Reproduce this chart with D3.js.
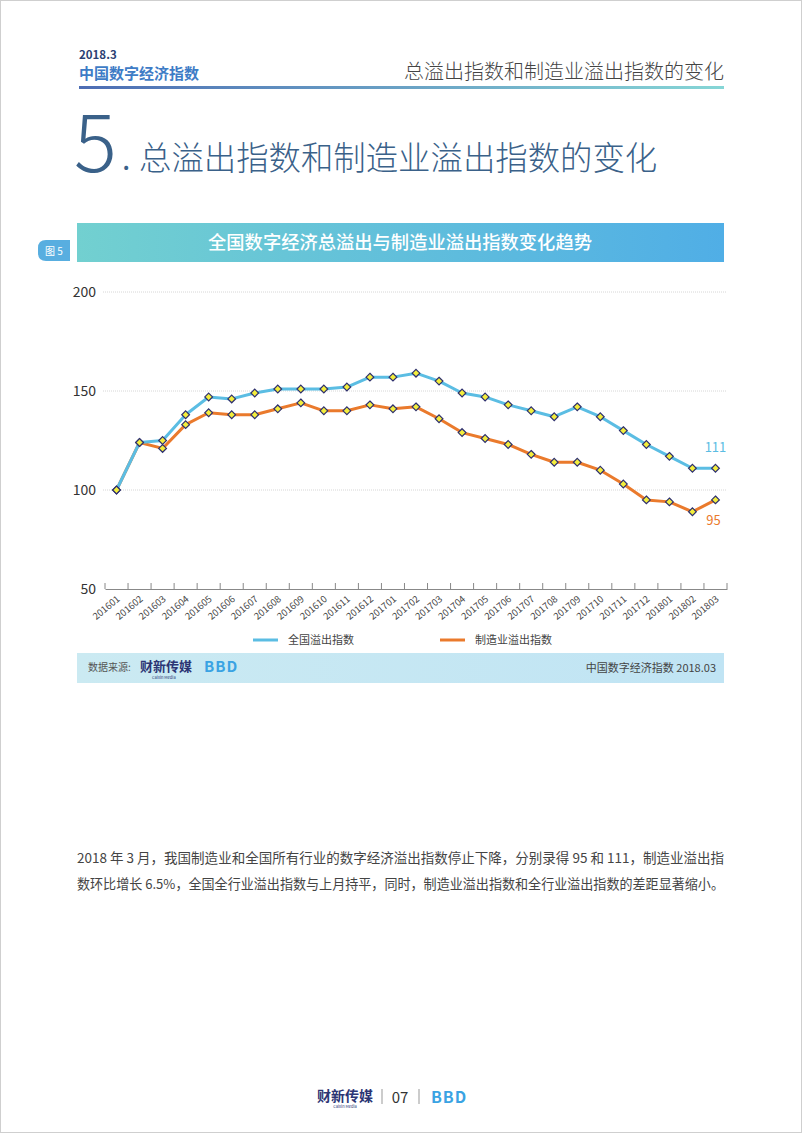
<!DOCTYPE html>
<html>
<head>
<meta charset="utf-8">
<script src="https://cdn.jsdelivr.net/npm/d3@7"></script>
<style>
  html, body { margin: 0; padding: 0; background: #fff; }
  svg { display: block; }
  text { font-family: "Noto Sans CJK SC", "Noto Sans", sans-serif; }
</style>
</head>
<body>
<div id="page"></div>
<script>
"use strict";

// chart data
var months = ["201601","201602","201603","201604","201605","201606","201607","201608","201609",
              "201610","201611","201612","201701","201702","201703","201704","201705","201706",
              "201707","201708","201709","201710","201711","201712","201801","201802","201803"];
var totalIndex = [100,124,125,138,147,146,149,151,151,151,152,157,157,159,155,149,147,143,140,137,142,137,130,123,117,111,111];
var mfgIndex   = [100,124,121,133,139,138,138,141,144,140,140,143,141,142,136,129,126,123,118,114,114,110,103,95,94,89,95];
var yTicks = [50, 100, 150, 200];
var seriesNames = ["全国溢出指数", "制造业溢出指数"];
var seriesColors = ["#5bbde3", "#ea7a2c"];

var W = 802, H = 1133;
var svg = d3.select("#page").append("svg")
    .attr("width", W)
    .attr("height", H);

var defs = svg.append("defs");

// page border
svg.append("rect")
    .attr("x", 0.5).attr("y", 0.5)
    .attr("width", W - 1).attr("height", H - 1)
    .attr("fill", "none")
    .attr("stroke", "#cfcfcf");

// ---- header
svg.append("text")
    .attr("x", 79).attr("y", 59)
    .attr("font-family", "DejaVu Sans Condensed")
    .attr("font-weight", "bold")
    .attr("font-size", 11.5)
    .attr("fill", "#2b3f73")
    .text("2018.3");

svg.append("text")
    .attr("x", 79).attr("y", 79)
    .attr("font-weight", "bold")
    .attr("font-size", 15)
    .attr("fill", "#3e7cc6")
    .text("中国数字经济指数");

svg.append("text")
    .attr("x", 724).attr("y", 79)
    .attr("text-anchor", "end")
    .attr("font-weight", 300)
    .attr("font-size", 20)
    .attr("fill", "#444")
    .text("总溢出指数和制造业溢出指数的变化");

var lineGrad = defs.append("linearGradient").attr("id", "hdrLine");
lineGrad.append("stop").attr("offset", "0%").attr("stop-color", "#4d6db4");
lineGrad.append("stop").attr("offset", "100%").attr("stop-color", "#86d6d6");
svg.append("rect")
    .attr("x", 79).attr("y", 86)
    .attr("width", 645).attr("height", 3)
    .attr("fill", "url(#hdrLine)");

// ---- section title
var titleColor = "#3a6189";
svg.append("text")
    .attr("x", 74).attr("y", 172)
    .attr("font-family", "Noto Sans")
    .attr("font-weight", 300)
    .attr("font-size", 80)
    .attr("fill", titleColor)
    .text("5");
svg.append("text")
    .attr("x", 122).attr("y", 170)
    .attr("font-family", "Noto Sans")
    .attr("font-size", 30)
    .attr("fill", titleColor)
    .text(".");
svg.append("text")
    .attr("x", 139).attr("y", 170)
    .attr("font-weight", 300)
    .attr("font-size", 32.4)
    .attr("fill", titleColor)
    .text("总溢出指数和制造业溢出指数的变化");

// ---- banner
var banGrad = defs.append("linearGradient").attr("id", "banner");
banGrad.append("stop").attr("offset", "0%").attr("stop-color", "#72d0d0");
banGrad.append("stop").attr("offset", "100%").attr("stop-color", "#50aee6");
svg.append("rect")
    .attr("x", 77).attr("y", 223)
    .attr("width", 647).attr("height", 39)
    .attr("fill", "url(#banner)");
svg.append("text")
    .attr("x", 400).attr("y", 249)
    .attr("text-anchor", "middle")
    .attr("font-weight", 500)
    .attr("font-size", 18.3)
    .attr("fill", "#fff")
    .text("全国数字经济总溢出与制造业溢出指数变化趋势");

svg.append("path")
    .attr("d", "M70,240 H46 Q38,240 38,248 V253 Q38,261 46,261 H70 Z")
    .attr("fill", "#58aee0");
svg.append("text")
    .attr("x", 54).attr("y", 255)
    .attr("text-anchor", "middle")
    .attr("font-size", 10)
    .attr("fill", "#fff")
    .text("图 5");

// ---- chart
var x = d3.scaleBand().domain(months).range([105, 727]);
var y = d3.scaleLinear().domain([50, 200]).range([589, 292]);
var cx = function(d, i){ return x(months[i]) + x.bandwidth() / 2; };

var chart = svg.append("g").attr("class", "chart");

// gridlines
chart.selectAll(".grid")
    .data(yTicks.filter(function(t){ return t > 50; }))
    .enter()
    .append("line")
    .attr("x1", 103).attr("x2", 727)
    .attr("y1", function(d){ return y(d); })
    .attr("y2", function(d){ return y(d); })
    .attr("stroke", "#d6d6d6")
    .attr("stroke-width", 1)
    .attr("stroke-dasharray", "1,1");

// y axis labels
var yAxis = d3.axisLeft(y).tickValues(yTicks).tickSize(0).tickPadding(0);
chart.append("g")
    .attr("transform", "translate(96,0)")
    .call(yAxis)
    .call(function(g){ g.select(".domain").remove(); })
    .selectAll("text")
    .attr("font-family", "Open Sans")
    .attr("font-size", 14)
    .attr("fill", "#333");

// x axis
var xAxis = d3.axisBottom(x).tickSize(0).tickPadding(0);
var gx = chart.append("g")
    .attr("transform", "translate(0," + y(50) + ")")
    .call(xAxis);
gx.select(".domain").attr("stroke", "#888");
gx.selectAll("text")
    .attr("font-family", "Noto Sans")
    .attr("font-size", 9.5)
    .attr("fill", "#444")
    .attr("text-anchor", "end")
    .attr("dy", 0)
    .attr("transform", "translate(4,11) rotate(-40)");

// boundary ticks
var bounds = months.map(function(m){ return x(m); }).concat([x(months[months.length - 1]) + x.bandwidth()]);
gx.selectAll(".btick")
    .data(bounds)
    .enter()
    .append("line")
    .attr("x1", function(d){ return d; })
    .attr("x2", function(d){ return d; })
    .attr("y1", -6).attr("y2", 0)
    .attr("stroke", "#888");

// lines
var line = d3.line()
    .x(cx)
    .y(function(d){ return y(d); });

var series = [totalIndex, mfgIndex];
[1, 0].forEach(function(k){
    chart.append("path")
        .datum(series[k])
        .attr("d", line)
        .attr("fill", "none")
        .attr("stroke", seriesColors[k])
        .attr("stroke-width", 3)
        .attr("stroke-linejoin", "round");
});

// diamond markers
var diamond = d3.symbol().type(d3.symbolDiamond2).size(38);
[1, 0].forEach(function(k){
    chart.selectAll(".mk" + k)
        .data(series[k])
        .enter()
        .append("path")
        .attr("d", diamond)
        .attr("transform", function(d, i){ return "translate(" + cx(d, i) + "," + y(d) + ")"; })
        .attr("fill", "#f3ee3c")
        .attr("stroke", "#2d2f6e")
        .attr("stroke-width", 1.2);
});

// end labels
var last = months.length - 1;
chart.append("text")
    .attr("x", cx(0, last)).attr("y", y(totalIndex[last]) - 16)
    .attr("text-anchor", "middle")
    .attr("font-family", "Open Sans")
    .attr("font-size", 13)
    .attr("fill", seriesColors[0])
    .text(totalIndex[last]);
chart.append("text")
    .attr("x", cx(0, last) - 2).attr("y", y(mfgIndex[last]) + 25)
    .attr("text-anchor", "middle")
    .attr("font-family", "Open Sans")
    .attr("font-size", 13)
    .attr("fill", seriesColors[1])
    .text(mfgIndex[last]);

// legend
var legendX = [253, 440];
seriesNames.forEach(function(name, k){
    var g = chart.append("g").attr("transform", "translate(" + legendX[k] + ",640)");
    g.append("line")
        .attr("x1", 0).attr("x2", 25)
        .attr("stroke", seriesColors[k])
        .attr("stroke-width", 3);
    g.append("text")
        .attr("x", 35).attr("y", 4)
        .attr("font-size", 11)
        .attr("fill", "#444")
        .text(name);
});

// ---- source bar
var srcGrad = defs.append("linearGradient").attr("id", "srcbar");
srcGrad.append("stop").attr("offset", "0%").attr("stop-color", "#cbeaf2");
srcGrad.append("stop").attr("offset", "100%").attr("stop-color", "#c0e4f4");
svg.append("rect")
    .attr("x", 77).attr("y", 653)
    .attr("width", 647).attr("height", 30)
    .attr("fill", "url(#srcbar)");
svg.append("text")
    .attr("x", 88).attr("y", 671)
    .attr("font-size", 10)
    .attr("fill", "#555")
    .text("数据来源:");
svg.append("text")
    .attr("x", 140).attr("y", 671)
    .attr("font-weight", "bold")
    .attr("font-size", 13)
    .attr("fill", "#2c3574")
    .text("财新传媒");
svg.append("text")
    .attr("x", 152).attr("y", 679)
    .attr("font-family", "Liberation Sans")
    .attr("font-size", 4)
    .attr("fill", "#2c3574")
    .text("Caixin Media");
svg.append("text")
    .attr("x", 204).attr("y", 672)
    .attr("font-family", "DejaVu Sans")
    .attr("font-weight", "bold")
    .attr("font-size", 15)
    .attr("letter-spacing", 1)
    .attr("fill", "#3aa3e3")
    .text("BBD");
svg.append("text")
    .attr("x", 716).attr("y", 672)
    .attr("text-anchor", "end")
    .attr("font-size", 11)
    .attr("fill", "#444")
    .text("中国数字经济指数 2018.03");

// ---- paragraph
var para = [
    "2018 年 3 月，我国制造业和全国所有行业的数字经济溢出指数停止下降，分别录得 95 和 111，制造业溢出指",
    "数环比增长 6.5%，全国全行业溢出指数与上月持平，同时，制造业溢出指数和全行业溢出指数的差距显著缩小。"
];
svg.selectAll(".para")
    .data(para)
    .enter()
    .append("text")
    .attr("x", 77)
    .attr("y", function(d, i){ return 863 + i * 26; })
    .attr("font-size", 13.3)
    .attr("fill", "#444")
    .attr("textLength", 647)
    .attr("lengthAdjust", "spacingAndGlyphs")
    .text(function(d){ return d; });

// ---- footer
svg.append("text")
    .attr("x", 345).attr("y", 1101)
    .attr("text-anchor", "middle")
    .attr("font-weight", "bold")
    .attr("font-size", 14)
    .attr("fill", "#2c3574")
    .text("财新传媒");
svg.append("text")
    .attr("x", 345).attr("y", 1108)
    .attr("text-anchor", "middle")
    .attr("font-family", "Liberation Sans")
    .attr("font-size", 4)
    .attr("fill", "#2c3574")
    .text("Caixin Media");
svg.append("line")
    .attr("x1", 382).attr("x2", 382).attr("y1", 1089).attr("y2", 1104)
    .attr("stroke", "#999");
svg.append("text")
    .attr("x", 400).attr("y", 1103)
    .attr("text-anchor", "middle")
    .attr("font-family", "Open Sans")
    .attr("font-size", 15)
    .attr("fill", "#333")
    .text("07");
svg.append("line")
    .attr("x1", 419).attr("x2", 419).attr("y1", 1089).attr("y2", 1104)
    .attr("stroke", "#999");
svg.append("text")
    .attr("x", 449).attr("y", 1103)
    .attr("text-anchor", "middle")
    .attr("font-family", "DejaVu Sans")
    .attr("font-weight", "bold")
    .attr("font-size", 16)
    .attr("letter-spacing", 1)
    .attr("fill", "#3aa3e3")
    .text("BBD");
</script>
</body>
</html>
